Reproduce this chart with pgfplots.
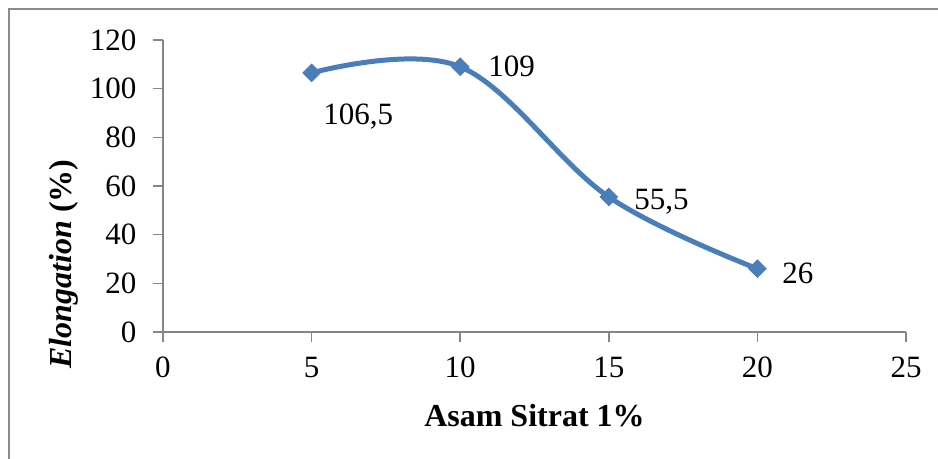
\documentclass[border=0pt]{standalone}
\usepackage{fontspec}
\setmainfont{Liberation Serif}
\usepackage{pgfplots}
\pgfplotsset{compat=1.18}
\definecolor{serieblue}{RGB}{74,126,187}
\definecolor{axisgray}{RGB}{134,134,134}
\definecolor{framegray}{RGB}{140,140,140}
\begin{document}
\fontsize{15.5}{18}\selectfont
\begin{tikzpicture}
\path[use as bounding box] (0,0) rectangle (469pt,229.5pt);
% chart frame
\draw[framegray, line width=1pt] (4.5pt,0) -- (4.5pt,225pt) -- (469pt,225pt);
\begin{axis}[
  at={(81.5pt,63.5pt)}, anchor=south west,
  scale only axis, width=371.5pt, height=146pt,
  xmin=0, xmax=25, ymin=0, ymax=120,
  xtick={0,5,...,25}, ytick={0,20,...,120},
  axis lines*=left,
  axis line style={axisgray, line width=0.75pt, -},
  tick style={axisgray, line width=0.75pt},
  tick align=outside, major tick length=5pt,
  /pgf/number format/assume math mode=true,
  ticklabel style={font=\fontsize{15.5}{18}\selectfont},
  yticklabel style={xshift=-3pt},
  xticklabel style={yshift=-2pt},
  clip=false,
  xlabel={\fontsize{16}{18}\selectfont\bfseries Asam Sitrat 1\%},
  xlabel style={at={(axis description cs:0.5,-0.325)}, anchor=base, inner sep=0pt},
  ylabel={\fontsize{16}{18}\selectfont\bfseries\itshape Elongation\/ \upshape(\%)},
  ylabel style={at={(axis description cs:-0.133,0.233)}, anchor=center, inner sep=0pt},
]
\addplot[serieblue, line width=2.5pt, smooth, tension=0.6,
  mark=square*, mark size=3.1pt,
  mark options={rotate=45, solid, fill=serieblue, draw=serieblue, line width=0.4pt}]
  coordinates {(5,106.5) (10,109) (15,55.5) (20,26)};
\node[anchor=base west, inner sep=0pt, xshift=5.7pt, yshift=-26pt] at (axis cs:5,106.5) {106,5};
\node[anchor=base west, inner sep=0pt, xshift=13.9pt, yshift=-5.1pt] at (axis cs:10,109) {109};
\node[anchor=base west, inner sep=0pt, xshift=12.6pt, yshift=-6.5pt] at (axis cs:15,55.5) {55,5};
\node[anchor=base west, inner sep=0pt, xshift=12.3pt, yshift=-7.2pt] at (axis cs:20,26) {26};
\end{axis}
\end{tikzpicture}
\end{document}
